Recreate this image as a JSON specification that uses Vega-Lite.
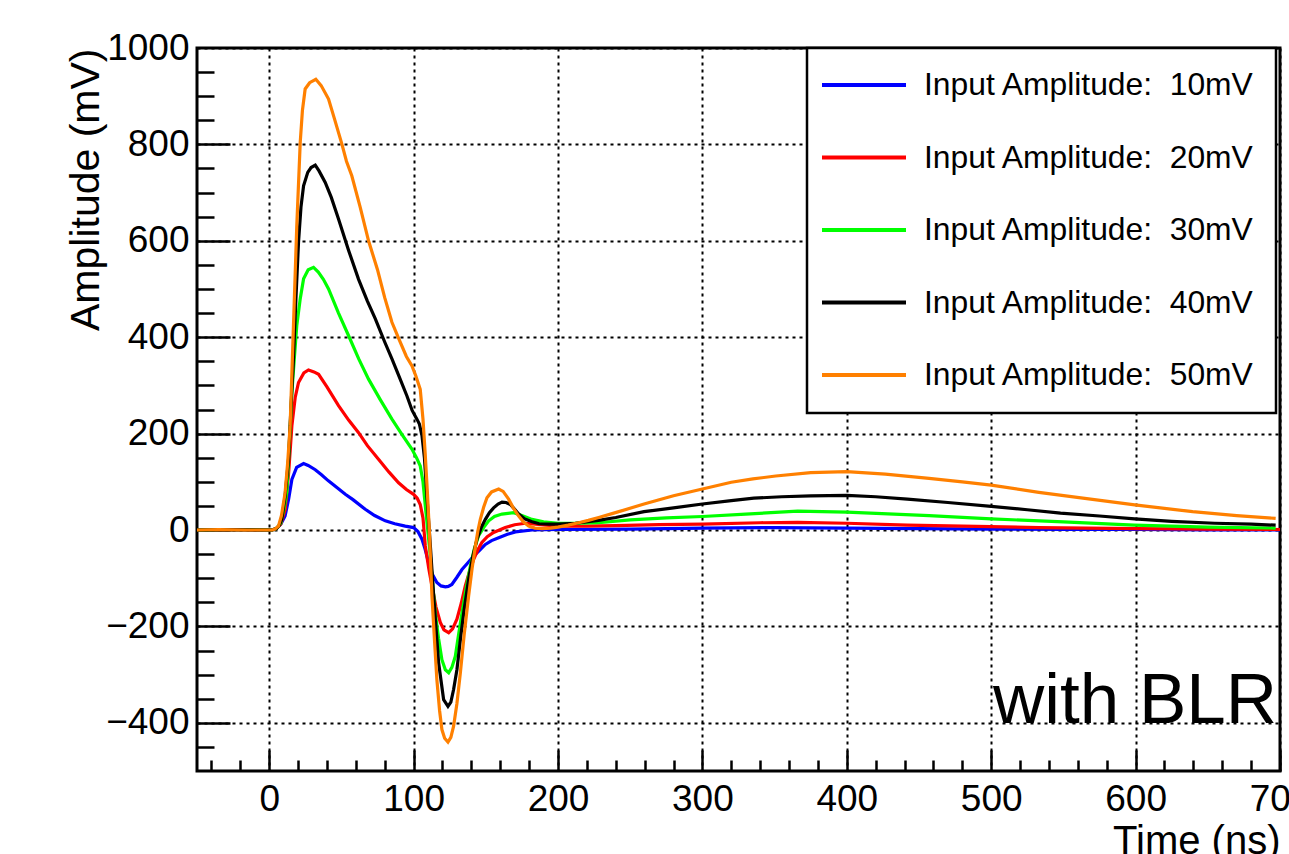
{
  "$schema": "https://vega.github.io/schema/vega-lite/v6.json",
  "autosize": "none",
  "width": 1083,
  "height": 723,
  "padding": {"left": 197, "top": 48, "right": 9, "bottom": 83},
  "background": "white",
  "config": {
    "font": "Liberation Sans",
    "view": {"stroke": "black", "strokeWidth": 3},
    "legend": {"strokeWidth": 2.5}
  },
  "datasets": {
    "pulses": [
      {"k":10,"t":-50,"a":0},{"k":10,"t":-30,"a":1},{"k":10,"t":-10,"a":0},{"k":10,"t":2,"a":0},{"k":10,"t":5,"a":3},{"k":10,"t":8,"a":12},{"k":10,"t":11,"a":29},{"k":10,"t":13.5,"a":65},{"k":10,"t":15.7,"a":105},{"k":10,"t":19,"a":130},{"k":10,"t":23.8,"a":138},{"k":10,"t":27,"a":134},{"k":10,"t":31.9,"a":125},{"k":10,"t":36,"a":115},{"k":10,"t":41,"a":102},{"k":10,"t":46,"a":90},{"k":10,"t":52.7,"a":74},{"k":10,"t":58,"a":63},{"k":10,"t":66.5,"a":43},{"k":10,"t":73,"a":30},{"k":10,"t":80.4,"a":19},{"k":10,"t":87,"a":13},{"k":10,"t":94.2,"a":8},{"k":10,"t":100,"a":5},{"k":10,"t":103,"a":-3},{"k":10,"t":105.8,"a":-19},{"k":10,"t":108,"a":-40},{"k":10,"t":110.4,"a":-68},{"k":10,"t":113,"a":-92},{"k":10,"t":116.1,"a":-109},{"k":10,"t":119,"a":-116},{"k":10,"t":122,"a":-118},{"k":10,"t":124,"a":-117},{"k":10,"t":126.5,"a":-113},{"k":10,"t":130,"a":-98},{"k":10,"t":133.5,"a":-82},{"k":10,"t":137,"a":-70},{"k":10,"t":141.6,"a":-54},{"k":10,"t":146,"a":-41},{"k":10,"t":149.7,"a":-30},{"k":10,"t":154,"a":-22},{"k":10,"t":158.9,"a":-16},{"k":10,"t":165,"a":-9},{"k":10,"t":170.5,"a":-4},{"k":10,"t":182,"a":0},{"k":10,"t":200,"a":1},{"k":10,"t":250,"a":2},{"k":10,"t":300,"a":4},{"k":10,"t":350,"a":5},{"k":10,"t":400,"a":4},{"k":10,"t":450,"a":3},{"k":10,"t":500,"a":2},{"k":10,"t":550,"a":1},{"k":10,"t":600,"a":1},{"k":10,"t":650,"a":0},{"k":10,"t":700,"a":0},

      {"k":20,"t":-50,"a":0},{"k":20,"t":-10,"a":0},{"k":20,"t":2,"a":0},{"k":20,"t":5,"a":3},{"k":20,"t":8,"a":12},{"k":20,"t":11.1,"a":43},{"k":20,"t":13.5,"a":120},{"k":20,"t":15.7,"a":216},{"k":20,"t":18,"a":275},{"k":20,"t":20.3,"a":306},{"k":20,"t":24,"a":326},{"k":20,"t":27.2,"a":332},{"k":20,"t":31,"a":328},{"k":20,"t":34.2,"a":323},{"k":20,"t":40,"a":297},{"k":20,"t":48,"a":258},{"k":20,"t":55,"a":228},{"k":20,"t":61.9,"a":202},{"k":20,"t":68,"a":175},{"k":20,"t":75.7,"a":147},{"k":20,"t":83,"a":120},{"k":20,"t":89.6,"a":98},{"k":20,"t":95,"a":84},{"k":20,"t":100,"a":74},{"k":20,"t":102.5,"a":66},{"k":20,"t":104.6,"a":53},{"k":20,"t":106.5,"a":25},{"k":20,"t":108.1,"a":-33},{"k":20,"t":110.5,"a":-80},{"k":20,"t":112.7,"a":-116},{"k":20,"t":115.5,"a":-160},{"k":20,"t":118.5,"a":-192},{"k":20,"t":121,"a":-207},{"k":20,"t":124.3,"a":-213},{"k":20,"t":127,"a":-205},{"k":20,"t":130,"a":-185},{"k":20,"t":133,"a":-152},{"k":20,"t":135.8,"a":-116},{"k":20,"t":138.5,"a":-88},{"k":20,"t":141.6,"a":-61},{"k":20,"t":144.5,"a":-41},{"k":20,"t":147.3,"a":-26},{"k":20,"t":151,"a":-14},{"k":20,"t":155.4,"a":-5},{"k":20,"t":163.5,"a":5},{"k":20,"t":170,"a":11},{"k":20,"t":177.4,"a":14},{"k":20,"t":188,"a":11},{"k":20,"t":200,"a":8},{"k":20,"t":220,"a":8},{"k":20,"t":240,"a":9},{"k":20,"t":270,"a":11},{"k":20,"t":300,"a":12},{"k":20,"t":340,"a":15},{"k":20,"t":366,"a":16},{"k":20,"t":400,"a":14},{"k":20,"t":442,"a":10},{"k":20,"t":480,"a":8},{"k":20,"t":533,"a":5},{"k":20,"t":600,"a":3},{"k":20,"t":650,"a":2},{"k":20,"t":700,"a":1},

      {"k":30,"t":-50,"a":0},{"k":30,"t":-20,"a":1},{"k":30,"t":2,"a":0},{"k":30,"t":5,"a":3},{"k":30,"t":8,"a":14},{"k":30,"t":10,"a":40},{"k":30,"t":12.2,"a":78},{"k":30,"t":14,"a":180},{"k":30,"t":15.7,"a":285},{"k":30,"t":17.5,"a":360},{"k":30,"t":19.1,"a":424},{"k":30,"t":21.5,"a":480},{"k":30,"t":23.8,"a":521},{"k":30,"t":27,"a":540},{"k":30,"t":30.7,"a":545},{"k":30,"t":34,"a":535},{"k":30,"t":37.5,"a":520},{"k":30,"t":41.1,"a":500},{"k":30,"t":48,"a":450},{"k":30,"t":55,"a":403},{"k":30,"t":62,"a":355},{"k":30,"t":68.8,"a":313},{"k":30,"t":77,"a":270},{"k":30,"t":85,"a":230},{"k":30,"t":92,"a":198},{"k":30,"t":98.8,"a":168},{"k":30,"t":102,"a":150},{"k":30,"t":104.6,"a":133},{"k":30,"t":106.5,"a":100},{"k":30,"t":108.1,"a":50},{"k":30,"t":109.8,"a":0},{"k":30,"t":111.6,"a":-54},{"k":30,"t":113.3,"a":-115},{"k":30,"t":115,"a":-172},{"k":30,"t":117.3,"a":-225},{"k":30,"t":119.6,"a":-269},{"k":30,"t":122,"a":-290},{"k":30,"t":124.3,"a":-296},{"k":30,"t":126.5,"a":-285},{"k":30,"t":128.9,"a":-262},{"k":30,"t":131,"a":-220},{"k":30,"t":133.5,"a":-172},{"k":30,"t":136.5,"a":-120},{"k":30,"t":139.3,"a":-75},{"k":30,"t":142,"a":-40},{"k":30,"t":145,"a":-12},{"k":30,"t":148.5,"a":5},{"k":30,"t":152,"a":19},{"k":30,"t":156,"a":28},{"k":30,"t":161.2,"a":33},{"k":30,"t":169.3,"a":36},{"k":30,"t":175,"a":30},{"k":30,"t":182,"a":22},{"k":30,"t":190,"a":17},{"k":30,"t":200,"a":14},{"k":30,"t":215,"a":14},{"k":30,"t":228,"a":15},{"k":30,"t":250,"a":21},{"k":30,"t":275,"a":25},{"k":30,"t":300,"a":28},{"k":30,"t":330,"a":33},{"k":30,"t":366,"a":39},{"k":30,"t":400,"a":37},{"k":30,"t":457,"a":30},{"k":30,"t":500,"a":23},{"k":30,"t":550,"a":17},{"k":30,"t":599,"a":10},{"k":30,"t":650,"a":6},{"k":30,"t":697,"a":4},

      {"k":40,"t":-50,"a":0},{"k":40,"t":-25,"a":1},{"k":40,"t":2,"a":0},{"k":40,"t":5,"a":3},{"k":40,"t":7,"a":10},{"k":40,"t":8.7,"a":22},{"k":40,"t":11,"a":70},{"k":40,"t":13.4,"a":147},{"k":40,"t":15,"a":250},{"k":40,"t":16.8,"a":355},{"k":40,"t":18.5,"a":480},{"k":40,"t":20.3,"a":597},{"k":40,"t":22,"a":670},{"k":40,"t":23.8,"a":714},{"k":40,"t":26.7,"a":742},{"k":40,"t":29,"a":752},{"k":40,"t":31.9,"a":757},{"k":40,"t":34.5,"a":745},{"k":40,"t":38.8,"a":721},{"k":40,"t":43,"a":690},{"k":40,"t":48,"a":645},{"k":40,"t":55,"a":580},{"k":40,"t":61.9,"a":520},{"k":40,"t":68,"a":475},{"k":40,"t":73.5,"a":438},{"k":40,"t":80,"a":390},{"k":40,"t":85,"a":355},{"k":40,"t":90,"a":318},{"k":40,"t":95.4,"a":278},{"k":40,"t":99,"a":248},{"k":40,"t":102.3,"a":230},{"k":40,"t":104,"a":220},{"k":40,"t":105.8,"a":196},{"k":40,"t":107.5,"a":150},{"k":40,"t":109.2,"a":71},{"k":40,"t":111.6,"a":-33},{"k":40,"t":113.9,"a":-137},{"k":40,"t":117.3,"a":-275},{"k":40,"t":120.8,"a":-352},{"k":40,"t":123.8,"a":-366},{"k":40,"t":125.8,"a":-357},{"k":40,"t":127.7,"a":-331},{"k":40,"t":130,"a":-290},{"k":40,"t":132.4,"a":-227},{"k":40,"t":135,"a":-165},{"k":40,"t":138.1,"a":-102},{"k":40,"t":141,"a":-55},{"k":40,"t":143.9,"a":-19},{"k":40,"t":146.8,"a":5},{"k":40,"t":149.7,"a":22},{"k":40,"t":152.5,"a":36},{"k":40,"t":155.4,"a":46},{"k":40,"t":158.5,"a":54},{"k":40,"t":161.2,"a":58},{"k":40,"t":164,"a":57},{"k":40,"t":167,"a":53},{"k":40,"t":170,"a":43},{"k":40,"t":172.8,"a":33},{"k":40,"t":177,"a":23},{"k":40,"t":182,"a":17},{"k":40,"t":187,"a":13},{"k":40,"t":193.6,"a":12},{"k":40,"t":200,"a":12},{"k":40,"t":212,"a":14},{"k":40,"t":228,"a":20},{"k":40,"t":240,"a":26},{"k":40,"t":259.6,"a":38},{"k":40,"t":280,"a":46},{"k":40,"t":300,"a":54},{"k":40,"t":320,"a":61},{"k":40,"t":335.6,"a":66},{"k":40,"t":355,"a":69},{"k":40,"t":375,"a":71},{"k":40,"t":400,"a":72},{"k":40,"t":420,"a":69},{"k":40,"t":442,"a":64},{"k":40,"t":470,"a":57},{"k":40,"t":500,"a":49},{"k":40,"t":525,"a":42},{"k":40,"t":548,"a":35},{"k":40,"t":575,"a":29},{"k":40,"t":599.4,"a":23},{"k":40,"t":625,"a":18},{"k":40,"t":654.7,"a":14},{"k":40,"t":680,"a":12},{"k":40,"t":697,"a":10},

      {"k":50,"t":-50,"a":0},{"k":50,"t":-35,"a":1},{"k":50,"t":-15,"a":0},{"k":50,"t":2,"a":0},{"k":50,"t":4,"a":2},{"k":50,"t":6.4,"a":8},{"k":50,"t":8.5,"a":30},{"k":50,"t":11,"a":77},{"k":50,"t":12.8,"a":140},{"k":50,"t":14.5,"a":216},{"k":50,"t":16.8,"a":424},{"k":50,"t":19.1,"a":631},{"k":50,"t":21.5,"a":805},{"k":50,"t":23,"a":870},{"k":50,"t":24.9,"a":915},{"k":50,"t":28,"a":928},{"k":50,"t":32.3,"a":935},{"k":50,"t":36,"a":922},{"k":50,"t":41.1,"a":894},{"k":50,"t":45,"a":855},{"k":50,"t":50.3,"a":801},{"k":50,"t":53.5,"a":765},{"k":50,"t":57.2,"a":735},{"k":50,"t":63,"a":670},{"k":50,"t":68.8,"a":600},{"k":50,"t":75,"a":540},{"k":50,"t":80,"a":482},{"k":50,"t":85,"a":431},{"k":50,"t":90,"a":395},{"k":50,"t":95,"a":360},{"k":50,"t":98.8,"a":341},{"k":50,"t":101.5,"a":320},{"k":50,"t":104.6,"a":292},{"k":50,"t":106.5,"a":230},{"k":50,"t":108,"a":160},{"k":50,"t":109.5,"a":80},{"k":50,"t":110.9,"a":0},{"k":50,"t":112.7,"a":-137},{"k":50,"t":114.5,"a":-230},{"k":50,"t":116.1,"a":-310},{"k":50,"t":118,"a":-375},{"k":50,"t":119.6,"a":-414},{"k":50,"t":121.5,"a":-432},{"k":50,"t":123.8,"a":-440},{"k":50,"t":125.8,"a":-430},{"k":50,"t":127.7,"a":-407},{"k":50,"t":130,"a":-360},{"k":50,"t":132.4,"a":-296},{"k":50,"t":135,"a":-218},{"k":50,"t":138.1,"a":-137},{"k":50,"t":140.5,"a":-80},{"k":50,"t":142.8,"a":-33},{"k":50,"t":144.5,"a":-2},{"k":50,"t":146.2,"a":22},{"k":50,"t":148.5,"a":47},{"k":50,"t":150.8,"a":67},{"k":50,"t":154,"a":79},{"k":50,"t":158.9,"a":85},{"k":50,"t":162,"a":80},{"k":50,"t":165.8,"a":64},{"k":50,"t":169,"a":46},{"k":50,"t":172.8,"a":29},{"k":50,"t":176,"a":17},{"k":50,"t":179.7,"a":8},{"k":50,"t":184,"a":4},{"k":50,"t":188.9,"a":3},{"k":50,"t":195,"a":4},{"k":50,"t":200,"a":6},{"k":50,"t":207,"a":10},{"k":50,"t":214.3,"a":15},{"k":50,"t":221,"a":20},{"k":50,"t":228.2,"a":26},{"k":50,"t":239.8,"a":36},{"k":50,"t":259.6,"a":54},{"k":50,"t":280,"a":71},{"k":50,"t":300,"a":85},{"k":50,"t":320,"a":99},{"k":50,"t":335,"a":106},{"k":50,"t":350.8,"a":112},{"k":50,"t":375,"a":119},{"k":50,"t":400,"a":121},{"k":50,"t":426.7,"a":116},{"k":50,"t":457,"a":107},{"k":50,"t":480,"a":100},{"k":50,"t":500,"a":93},{"k":50,"t":533,"a":78},{"k":50,"t":563.5,"a":66},{"k":50,"t":599.4,"a":52},{"k":50,"t":620,"a":45},{"k":50,"t":639.5,"a":38},{"k":50,"t":670,"a":30},{"k":50,"t":697,"a":24}
    ]
  },
  "data": {"name": "pulses"},
  "resolve": {"axis": {"x": "independent", "y": "independent"}},
  "layer": [
    {
      "mark": {"type": "line", "strokeWidth": 3.2, "clip": true},
      "encoding": {
        "x": {
          "field": "t", "type": "quantitative",
          "scale": {"domain": [-50, 700], "nice": false, "zero": false},
          "axis": {
            "orient": "bottom", "values": [0, 100, 200, 300, 400, 500, 600, 700], "format": "d",
            "ticks": false, "domain": false, "grid": true,
            "gridColor": "black", "gridDash": [3, 4], "gridWidth": 2, "gridOpacity": 1,
            "labelFont": "Liberation Sans", "labelFontSize": 37, "labelColor": "black",
            "labelPadding": 10, "labelFlush": false, "labelOverlap": false, "labelBound": false,
            "title": "Time (ns)", "titleFont": "Liberation Sans", "titleFontSize": 40,
            "titleFontWeight": "normal", "titleColor": "black",
            "titleAlign": "right", "titleBaseline": "alphabetic", "titleX": 1083, "titleY": 82
          }
        },
        "y": {
          "field": "a", "type": "quantitative",
          "scale": {"domain": [-500, 1000], "nice": false, "zero": false},
          "axis": {
            "orient": "left", "values": [-400, -200, 0, 200, 400, 600, 800, 1000], "format": "d",
            "ticks": false, "domain": false, "grid": true,
            "gridColor": "black", "gridDash": [3, 4], "gridWidth": 2, "gridOpacity": 1,
            "labelFont": "Liberation Sans", "labelFontSize": 37, "labelColor": "black",
            "labelPadding": 8, "labelFlush": false, "labelOverlap": false, "labelBound": false,
            "title": "Amplitude (mV)", "titleFont": "Liberation Sans", "titleFontSize": 41,
            "titleFontWeight": "normal", "titleColor": "black", "titleAngle": 270,
            "titleAlign": "right", "titleBaseline": "alphabetic", "titleX": -99, "titleY": 0
          }
        },
        "color": {
          "field": "k", "type": "nominal",
          "scale": {"domain": [10, 20, 30, 40, 50], "range": ["#0000ff", "#ff0000", "#00ff00", "#000000", "#ff8000"]},
          "legend": {
            "orient": "none", "legendX": 610, "legendY": 0, "title": null,
            "symbolType": "M-3,0H3", "symbolSize": 784, "symbolStrokeWidth": 4, "symbolOffset": 20,
            "labelFont": "Liberation Sans", "labelFontSize": 31.8, "labelColor": "black",
            "labelOffset": 44, "labelLimit": 0, "padding": 21, "rowPadding": 39.5,
            "strokeColor": "black", "fillColor": "white",
            "labelExpr": "'Input Amplitude:\u00a0 ' + datum.label + 'mV'"
          }
        }
      }
    },
    {
      "mark": {"type": "point", "opacity": 0},
      "encoding": {
        "x": {
          "field": "t", "type": "quantitative",
          "scale": {"domain": [-50, 700], "nice": false, "zero": false},
          "axis": {"orient": "bottom", "values": [0, 100, 200, 300, 400, 500, 600, 700], "tickSize": -21, "tickWidth": 2.5, "tickColor": "black", "labels": false, "domain": false, "grid": false, "title": null}
        },
        "y": {
          "field": "a", "type": "quantitative",
          "scale": {"domain": [-500, 1000], "nice": false, "zero": false},
          "axis": {"orient": "left", "values": [-400, -200, 0, 200, 400, 600, 800], "tickSize": -33, "tickWidth": 2.5, "tickColor": "black", "labels": false, "domain": false, "grid": false, "title": null}
        }
      }
    },
    {
      "mark": {"type": "point", "opacity": 0},
      "encoding": {
        "x": {
          "field": "t", "type": "quantitative",
          "scale": {"domain": [-50, 700], "nice": false, "zero": false},
          "axis": {"orient": "bottom", "values": [-40, -20, 20, 40, 60, 80, 120, 140, 160, 180, 220, 240, 260, 280, 320, 340, 360, 380, 420, 440, 460, 480, 520, 540, 560, 580, 620, 640, 660, 680], "tickSize": -11, "tickWidth": 2.5, "tickColor": "black", "labels": false, "domain": false, "grid": false, "title": null}
        },
        "y": {
          "field": "a", "type": "quantitative",
          "scale": {"domain": [-500, 1000], "nice": false, "zero": false},
          "axis": {"orient": "left", "values": [-450, -350, -300, -250, -150, -100, -50, 50, 100, 150, 250, 300, 350, 450, 500, 550, 650, 700, 750, 850, 900, 950], "tickSize": -17, "tickWidth": 2.5, "tickColor": "black", "labels": false, "domain": false, "grid": false, "title": null}
        }
      }
    },
    {
      "data": {"values": [{"label": "with BLR"}]},
      "mark": {"type": "text", "font": "Liberation Sans", "fontSize": 71, "align": "right", "baseline": "alphabetic", "color": "black"},
      "encoding": {
        "x": {"datum": 698, "type": "quantitative", "axis": null},
        "y": {"datum": -401, "type": "quantitative", "axis": null},
        "text": {"field": "label"}
      }
    }
  ]
}
